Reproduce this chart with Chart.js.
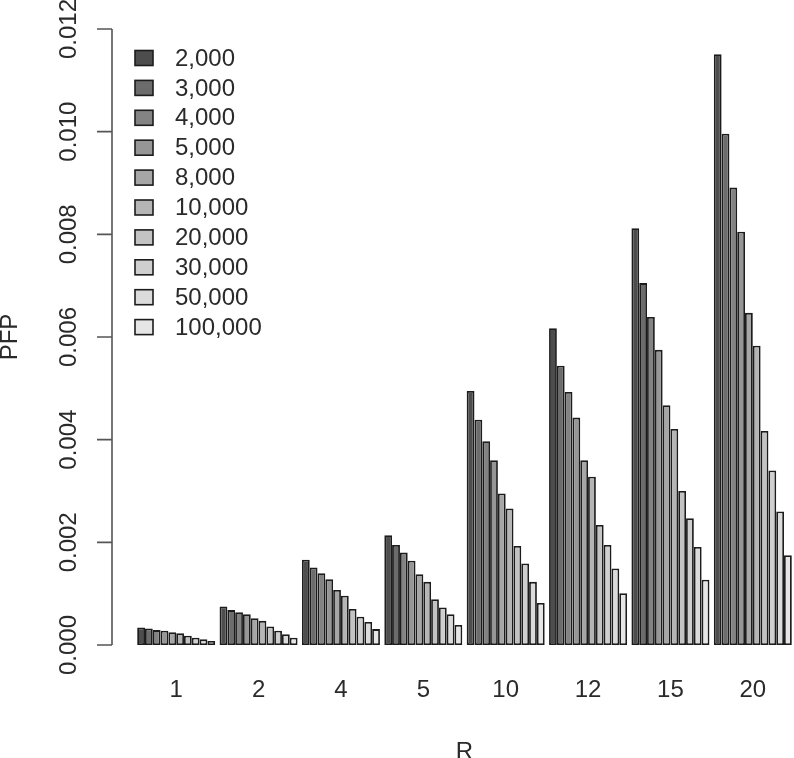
<!DOCTYPE html>
<html>
<head>
<meta charset="utf-8">
<script src="https://cdn.jsdelivr.net/npm/chart.js@4.4.0/dist/chart.umd.min.js"></script>
<style>
  body { margin: 0; background: #fff; }
  #wrap { width: 794px; height: 758px; }
</style>
</head>
<body>
<div id="wrap"><canvas id="pfpChart"></canvas></div>

<script>
    // R values on the x axis
    var categories = ['1', '2', '4', '5', '10', '12', '15', '20'];
    // legend labels (sample sizes)
    var sizes = ['2,000', '3,000', '4,000', '5,000', '8,000', '10,000', '20,000', '30,000', '50,000', '100,000'];
    var yTicks = [0, 0.002, 0.004, 0.006, 0.008, 0.010, 0.012];

    // PFP per sample size, one value per R
    var pfp2000   = [0.00034, 0.00075, 0.00166, 0.00214, 0.00495, 0.00617, 0.00812, 0.01151];
    var pfp3000   = [0.00032, 0.00068, 0.00151, 0.00195, 0.00439, 0.00544, 0.00705, 0.00996];
    var pfp4000   = [0.00029, 0.00064, 0.00140, 0.00180, 0.00397, 0.00493, 0.00639, 0.00891];
    var pfp5000   = [0.00028, 0.00060, 0.00128, 0.00164, 0.00360, 0.00443, 0.00575, 0.00805];
    var pfp8000   = [0.00025, 0.00052, 0.00107, 0.00138, 0.00295, 0.00360, 0.00467, 0.00647];
    var pfp10000  = [0.00023, 0.00047, 0.00096, 0.00123, 0.00266, 0.00328, 0.00421, 0.00583];
    var pfp20000  = [0.00018, 0.00036, 0.00070, 0.00089, 0.00193, 0.00234, 0.00300, 0.00417];
    var pfp30000  = [0.00014, 0.00028, 0.00055, 0.00073, 0.00159, 0.00195, 0.00247, 0.00340];
    var pfp50000  = [0.00011, 0.00021, 0.00045, 0.00060, 0.00123, 0.00149, 0.00191, 0.00260];
    var pfp100000 = [0.00008, 0.00014, 0.00031, 0.00039, 0.00082, 0.00101, 0.00127, 0.00175];

    var series = [pfp2000, pfp3000, pfp4000, pfp5000, pfp8000, pfp10000, pfp20000, pfp30000, pfp50000, pfp100000];
    var greys = ['#4d4d4d', '#6c6c6c', '#838383', '#969696', '#a6a6a6', '#b5b5b5', '#c3c3c3', '#cfcfcf', '#dbdbdb', '#e6e6e6'];

    var FONT = '"Liberation Sans", Arial, sans-serif';
    var TEXT = '#2a2a2a';

    var datasets = series.map(function (vals, i) {
        return {
            label: sizes[i],
            data: vals,
            backgroundColor: greys[i],
            borderColor: '#1c1c1c',
            borderWidth: 1.8,
            borderSkipped: false,
            barPercentage: 1.0,
            categoryPercentage: 0.947
        };
    });

    // y axis line, ticks, rotated labels and title (R style, offset from the bars)
    var rAxis = {
        id: 'rAxis',
        afterDraw: function (chart) {
            var ctx = chart.ctx;
            var y = chart.scales.y;
            var ax = 112;
            ctx.save();
            ctx.strokeStyle = '#555';
            ctx.lineWidth = 1.6;
            ctx.beginPath();
            ctx.moveTo(ax, y.getPixelForValue(0));
            ctx.lineTo(ax, y.getPixelForValue(0.012));
            yTicks.forEach(function (t) {
                var py = y.getPixelForValue(t);
                ctx.moveTo(ax, py);
                ctx.lineTo(ax - 15, py);
            });
            ctx.stroke();

            ctx.fillStyle = TEXT;
            ctx.font = '24px ' + FONT;
            ctx.textAlign = 'center';
            ctx.textBaseline = 'middle';
            yTicks.forEach(function (t) {
                var py = y.getPixelForValue(t);
                ctx.save();
                ctx.translate(69, py);
                ctx.rotate(-Math.PI / 2);
                ctx.fillText(t.toFixed(3), 0, 0);
                ctx.restore();
            });

            ctx.save();
            ctx.translate(10, (y.top + y.bottom) / 2);
            ctx.rotate(-Math.PI / 2);
            ctx.fillText('PFP', 0, 0);
            ctx.restore();
            ctx.restore();
        }
    };

    // legend drawn in the top-left corner of the plot
    var boxLegend = {
        id: 'boxLegend',
        afterDraw: function (chart) {
            var ctx = chart.ctx;
            ctx.save();
            ctx.font = '24px ' + FONT;
            ctx.textBaseline = 'middle';
            ctx.textAlign = 'left';
            chart.data.datasets.forEach(function (ds, i) {
                var cy = 58 + i * 29.9;
                ctx.fillStyle = ds.backgroundColor;
                ctx.fillRect(135, cy - 7.5, 18, 15);
                ctx.strokeStyle = '#1c1c1c';
                ctx.lineWidth = 1.6;
                ctx.strokeRect(135, cy - 7.5, 18, 15);
                ctx.fillStyle = TEXT;
                ctx.fillText(ds.label, 175, cy + 1);
            });
            ctx.restore();
        }
    };

    var ctxB = document.getElementById('pfpChart').getContext('2d');
    var pfpChart = new Chart(ctxB, {
        type: 'bar',
        data: {
            labels: categories,
            datasets: datasets
        },
        options: {
            responsive: true,
            maintainAspectRatio: false,
            animation: false,
            layout: { padding: { top: 29, right: 0, left: 0, bottom: 0 } },
            plugins: {
                legend: { display: false },
                tooltip: { enabled: false }
            },
            scales: {
                x: {
                    grid: { display: false },
                    border: { display: false },
                    ticks: {
                        color: TEXT,
                        font: { family: FONT, size: 24 },
                        padding: 23
                    },
                    title: {
                        display: true,
                        text: 'R',
                        color: TEXT,
                        font: { family: FONT, size: 24 },
                        padding: { top: 0, bottom: -9 }
                    },
                    afterFit: function (scale) { scale.height = 113; }
                },
                y: {
                    min: 0,
                    max: 0.012,
                    grid: { display: false },
                    border: { display: false },
                    ticks: { display: false, stepSize: 0.002 },
                    afterFit: function (scale) { scale.width = 135; }
                }
            }
        },
        plugins: [rAxis, boxLegend]
    });
</script>
</body>
</html>
